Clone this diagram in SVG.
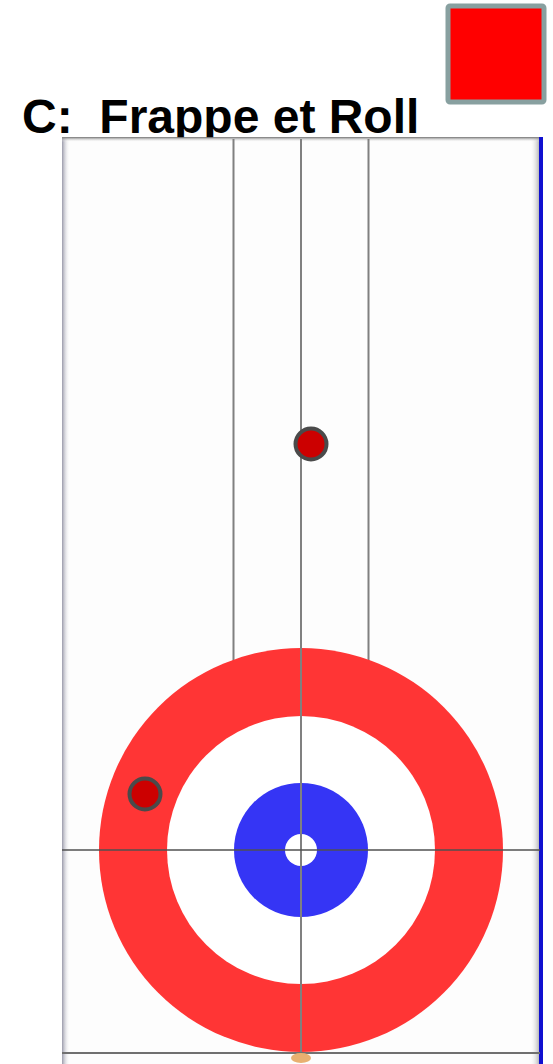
<svg xmlns="http://www.w3.org/2000/svg" width="553" height="1064" viewBox="0 0 553 1064">
<defs>
<linearGradient id="leftEdge" x1="0" y1="0" x2="1" y2="0">
<stop offset="0" stop-color="#9a9aaa"/>
<stop offset="1" stop-color="#ffffff" stop-opacity="0"/>
</linearGradient>
<linearGradient id="topEdge" x1="0" y1="0" x2="0" y2="1">
<stop offset="0" stop-color="#707070"/>
<stop offset="1" stop-color="#ffffff" stop-opacity="0"/>
</linearGradient>
<linearGradient id="rightEdge" x1="0" y1="0" x2="1" y2="0">
<stop offset="0" stop-color="#ffffff" stop-opacity="0"/>
<stop offset="1" stop-color="#b8b8b8"/>
</linearGradient>
</defs>
<style>
.guide{stroke:#808080;stroke-width:2;fill:none}
.dark{stroke:#505050;stroke-width:1.5;fill:none}
.stone{fill:#cc0000;stroke:#4a4a4a;stroke-width:4}
.title{font-family:"Liberation Sans",Arial,sans-serif;font-weight:bold;font-size:48px;fill:#000;white-space:pre}
</style>
<rect width="553" height="1064" fill="#ffffff"/>
<g id="legend">
<rect x="448" y="6" width="96" height="96" rx="2" fill="#ff0000" stroke="#88a0a0" stroke-width="5"/>
</g>
<g id="title">
<text class="title" x="22" y="133" xml:space="preserve">C:  Frappe et Roll</text>
</g>
<g id="sheet">
<rect x="62" y="138" width="478" height="926" fill="#fdfdfd"/>
<rect x="62" y="138" width="8" height="926" fill="url(#leftEdge)"/>
<rect x="530" y="138" width="9" height="926" fill="url(#rightEdge)"/>
<rect x="62" y="137" width="478" height="5" fill="url(#topEdge)"/>
<rect x="539" y="137" width="4" height="927" fill="#1010d0"/>
</g>
<g id="connectors">
<line class="guide" x1="233.5" y1="139" x2="233.5" y2="700"/>
<line class="guide" x1="368.5" y1="139" x2="368.5" y2="700"/>
</g>
<g id="house">
<circle cx="301" cy="850" r="202" fill="#ff3535"/>
<circle cx="301" cy="850" r="134" fill="#ffffff"/>
<circle cx="301" cy="850" r="67" fill="#3535f5"/>
<circle cx="301" cy="850" r="16" fill="#ffffff"/>
</g>
<g id="lines">
<line class="guide" x1="301" y1="139" x2="301" y2="1053"/>
<line class="dark" x1="62" y1="850" x2="540" y2="850"/>
<line x1="62" y1="1053" x2="540" y2="1053" stroke="#707070" stroke-width="2"/>
<ellipse cx="301" cy="1058" rx="10" ry="5" fill="#e8b070"/>
</g>
<g id="stone1">
<circle class="stone" cx="311" cy="444" r="15.5"/>
</g>
<g id="stone2">
<circle class="stone" cx="145" cy="794" r="15.5"/>
</g>
</svg>
